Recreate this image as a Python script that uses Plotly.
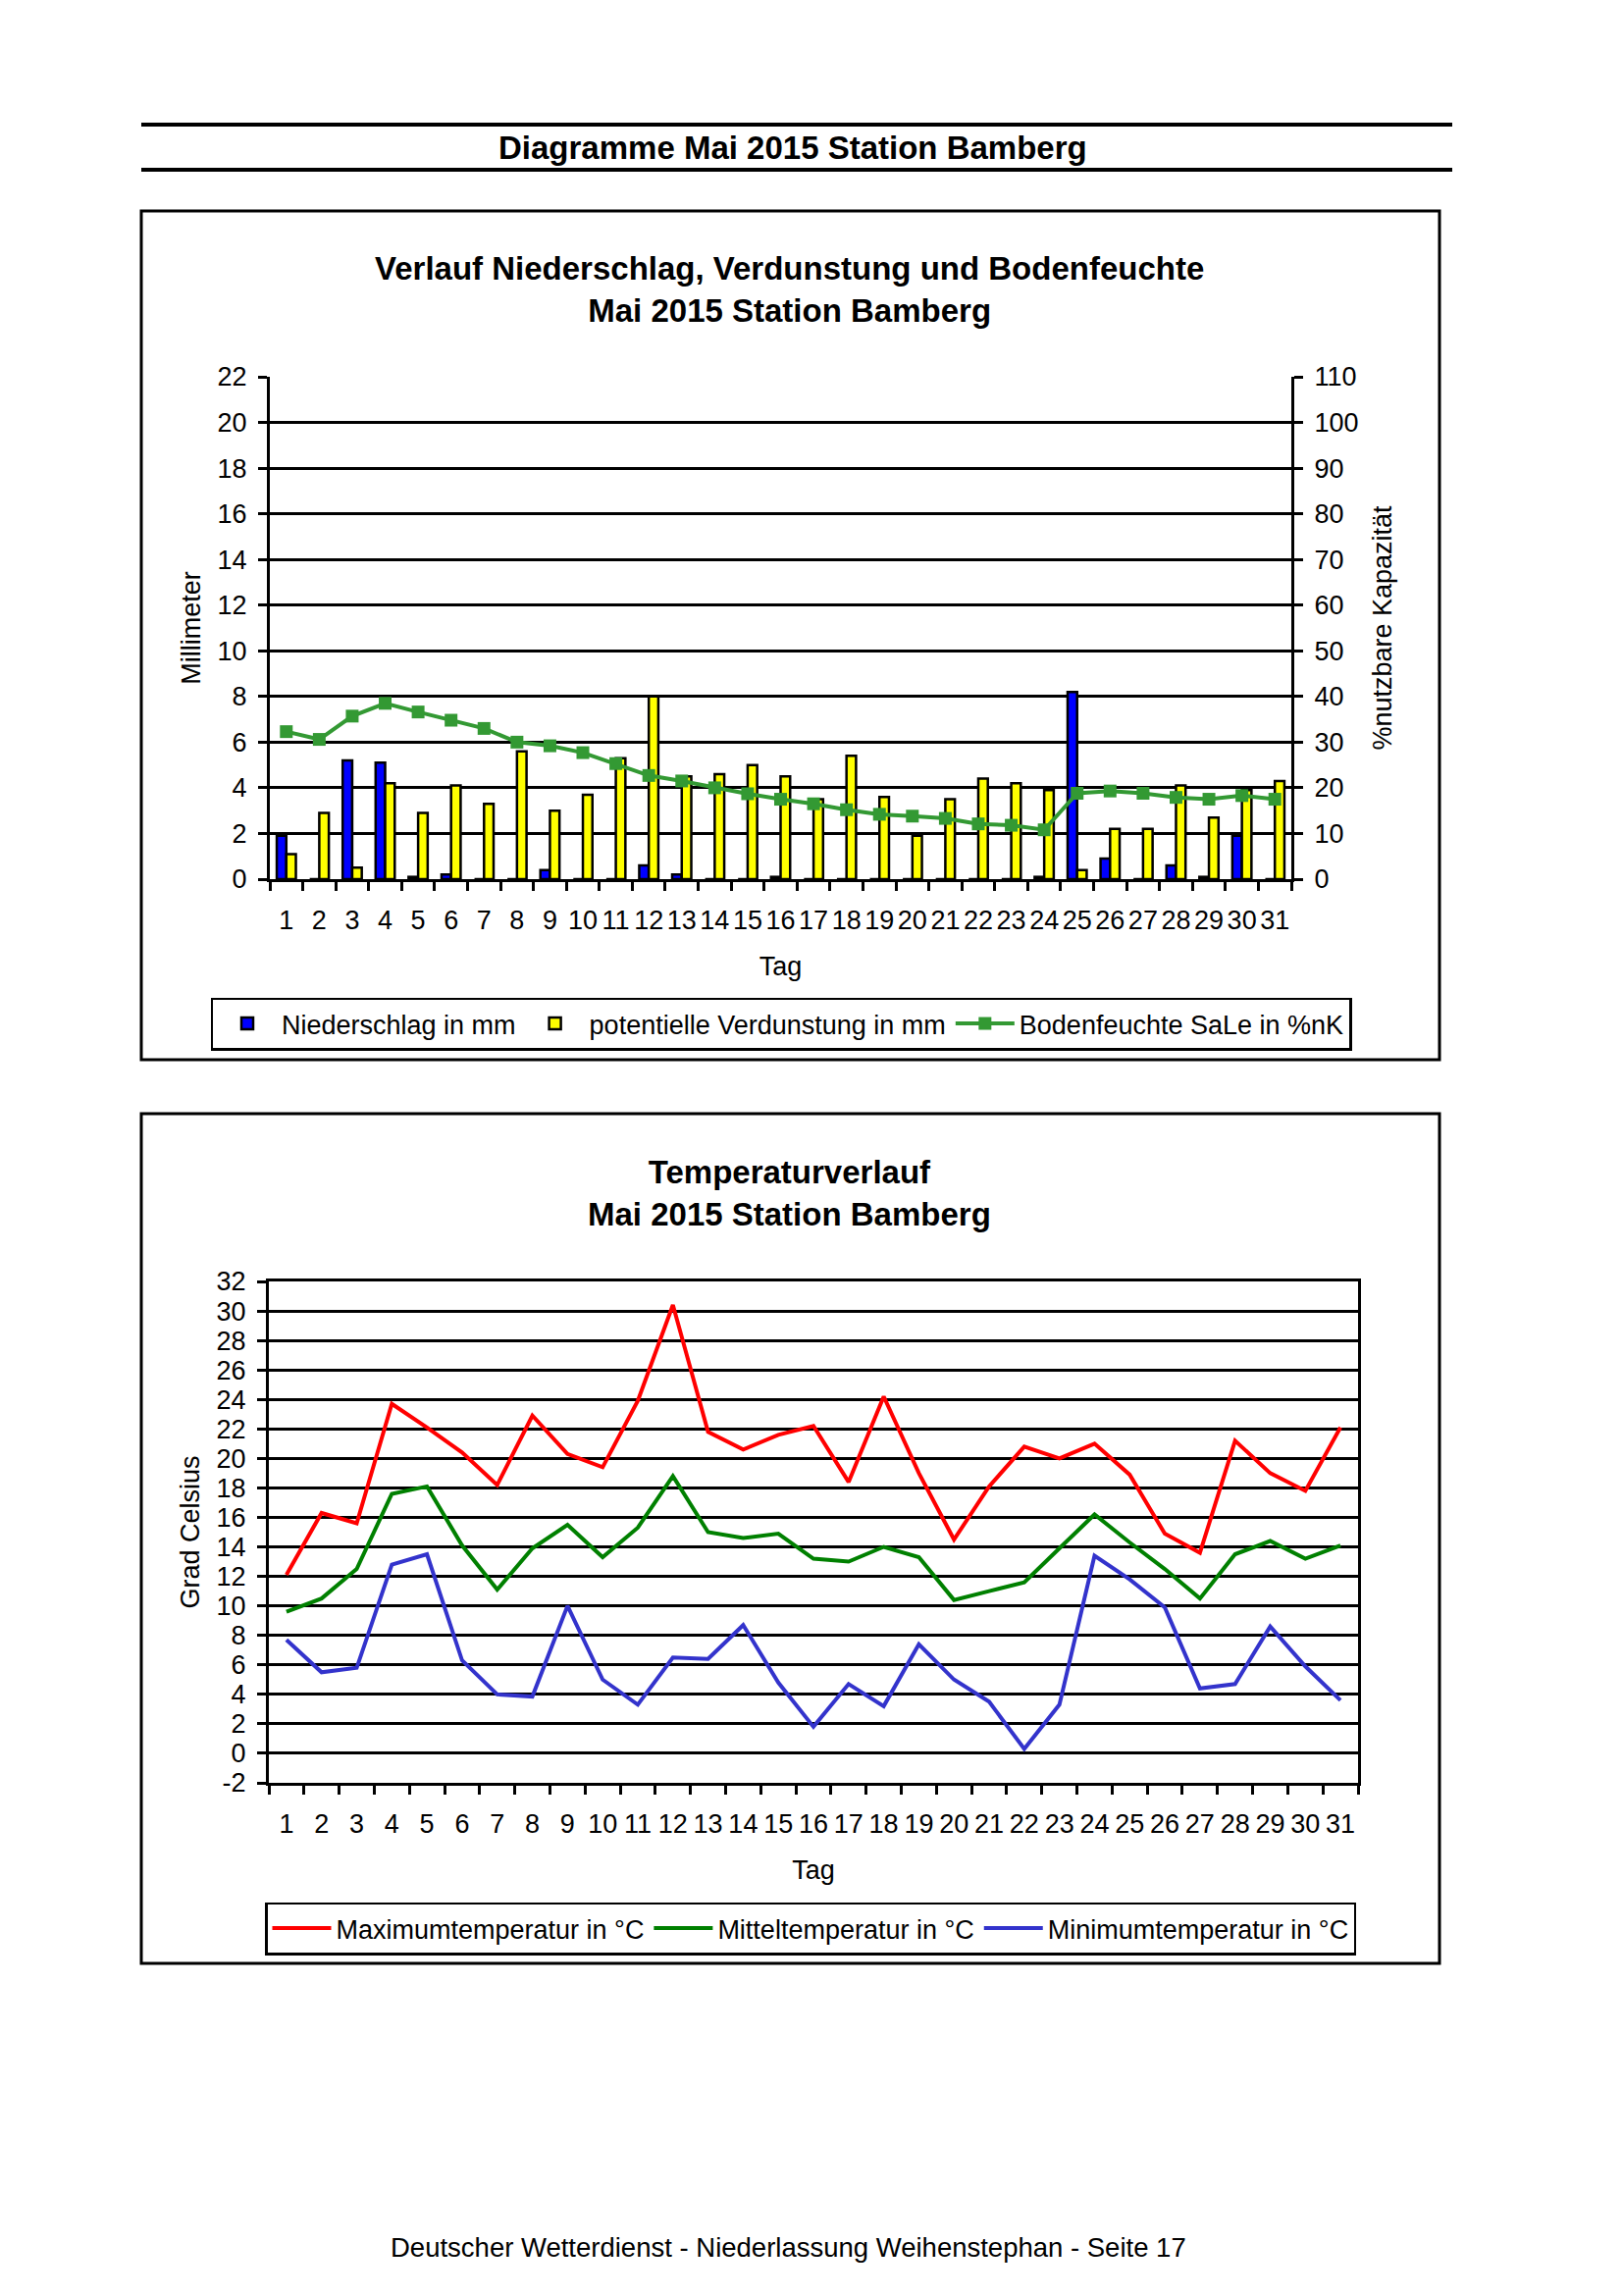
import plotly.graph_objects as go

W, H = 1653, 2340


def fx(px):
    return px / W


def fy(py):
    return 1 - py / H


FONT = "Liberation Sans, Arial, Helvetica, sans-serif"

# ---------------- data ----------------
days = [str(d) for d in range(1, 32)]

niederschlag = [1.9, 0.0, 5.2, 5.1, 0.1, 0.2, 0.0, 0.0, 0.4, 0.0, 0.0, 0.6, 0.2, 0.0, 0.0, 0.1,
                0.0, 0.0, 0.0, 0.0, 0.0, 0.0, 0.0, 0.1, 8.2, 0.9, 0.0, 0.6, 0.1, 1.9, 0.0]
verdunstung = [1.1, 2.9, 0.5, 4.2, 2.9, 4.1, 3.3, 5.6, 3.0, 3.7, 5.3, 8.0, 4.5, 4.6, 5.0, 4.5,
               3.5, 5.4, 3.6, 1.9, 3.5, 4.4, 4.2, 3.9, 0.4, 2.2, 2.2, 4.1, 2.7, 3.9, 4.3]
bodenfeuchte = [32.3, 30.6, 35.7, 38.5, 36.6, 34.8, 33.0, 30.0, 29.2, 27.7, 25.3, 22.7, 21.5, 20.0,
                18.7, 17.5, 16.5, 15.2, 14.2, 13.8, 13.3, 12.1, 11.8, 10.8, 18.8, 19.3, 18.8, 17.9,
                17.5, 18.3, 17.5]

tmax = [12.1, 16.3, 15.6, 23.7, 22.1, 20.4, 18.2, 22.9, 20.3, 19.4, 23.9, 30.4, 21.8, 20.6, 21.6,
        22.2, 18.4, 24.2, 19.0, 14.5, 18.1, 20.8, 20.0, 21.0, 18.9, 14.9, 13.6, 21.2, 19.0, 17.8, 22.1]
tmit = [9.6, 10.5, 12.5, 17.6, 18.1, 14.1, 11.1, 13.9, 15.5, 13.3, 15.3, 18.8, 15.0, 14.6, 14.9,
        13.2, 13.0, 14.0, 13.3, 10.4, 11.0, 11.6, 13.9, 16.2, 14.3, 12.5, 10.5, 13.5, 14.4, 13.2, 14.1]
tmin = [7.7, 5.5, 5.8, 12.8, 13.5, 6.3, 4.0, 3.85, 10.0, 5.0, 3.3, 6.5, 6.4, 8.7, 4.8, 1.8, 4.7,
        3.2, 7.4, 5.0, 3.5, 0.3, 3.3, 13.4, 11.8, 9.9, 4.4, 4.7, 8.6, 5.9, 3.6]

mm_ticks = list(range(0, 23, 2))
pct_ticks = list(range(0, 111, 10))
temp_ticks = list(range(-2, 33, 2))
temp_ticktext = [str(v) for v in temp_ticks]

# ---------------- figure ----------------
fig = go.Figure()

fig.add_trace(go.Bar(
    x=days, y=niederschlag, name="Niederschlag in mm",
    marker=dict(color="#0000FF", line=dict(color="black", width=2.5)),
    xaxis="x", yaxis="y", legend="legend"))
fig.add_trace(go.Bar(
    x=days, y=verdunstung, name="potentielle Verdunstung in mm",
    marker=dict(color="#FFFF00", line=dict(color="black", width=2.5)),
    xaxis="x", yaxis="y", legend="legend"))
fig.add_trace(go.Scatter(
    x=days, y=bodenfeuchte, name="Bodenfeuchte SaLe in %nK", mode="lines+markers",
    line=dict(color="#339933", width=4),
    marker=dict(symbol="square", size=13, color="#339933"),
    xaxis="x", yaxis="y2", legend="legend"))

fig.add_trace(go.Scatter(
    x=days, y=tmax, name="Maximumtemperatur in °C", mode="lines",
    line=dict(color="#FF0000", width=4), xaxis="x2", yaxis="y3", legend="legend2"))
fig.add_trace(go.Scatter(
    x=days, y=tmit, name="Mitteltemperatur in °C", mode="lines",
    line=dict(color="#008000", width=4), xaxis="x2", yaxis="y3", legend="legend2"))
fig.add_trace(go.Scatter(
    x=days, y=tmin, name="Minimumtemperatur in °C", mode="lines",
    line=dict(color="#3333CC", width=4), xaxis="x2", yaxis="y3", legend="legend2"))

tickfont = dict(family=FONT, size=27, color="black")
axis_common = dict(showline=True, linecolor="black", linewidth=3, ticks="outside",
                   tickcolor="black", tickwidth=3, ticklen=9, tickfont=tickfont,
                   automargin=False)
xcat = dict(type="category", tickson="boundaries", showgrid=False, tickmode="linear",
            tick0=0, dtick=1, tickangle=0, ticklabelstandoff=16,
            range=[-0.5, len(days) - 0.5], autorange=False)

legend_common = dict(orientation="h", xanchor="center", yanchor="middle",
                     bordercolor="black", borderwidth=2.5, bgcolor="white",
                     itemwidth=60, font=dict(family=FONT, size=27, color="black"))

fig.update_layout(
    width=W, height=H, autosize=False,
    margin=dict(l=0, r=0, t=0, b=0, pad=0),
    paper_bgcolor="white", plot_bgcolor="white",
    font=dict(family=FONT, size=27, color="black"),
    barmode="group", bargap=0.42, bargroupgap=0.0,
    xaxis=dict(domain=[fx(275), fx(1316)], anchor="y",
               title=dict(text="Tag", font=dict(family=FONT, size=27), standoff=23),
               **xcat, **axis_common),
    yaxis=dict(domain=[fy(896), fy(384)], anchor="x", range=[0, 22],
               tickvals=mm_ticks, showgrid=True, gridcolor="black", gridwidth=3,
               zeroline=False, ticklabelstandoff=6,
               title=dict(text="Millimeter", font=dict(family=FONT, size=27), standoff=10),
               **axis_common),
    yaxis2=dict(overlaying="y", side="right", anchor="x", range=[0, 110],
                tickvals=pct_ticks, showgrid=False, zeroline=False, ticklabelstandoff=6,
                title=dict(text="%nutzbare Kapazität", font=dict(family=FONT, size=27), standoff=16),
                **axis_common),
    xaxis2=dict(domain=[fx(274), fx(1384)], anchor="y3", mirror=True,
                title=dict(text="Tag", font=dict(family=FONT, size=27), standoff=23),
                **xcat, **axis_common),
    yaxis3=dict(domain=[fy(1817), fy(1306)], anchor="x2", range=[-2, 32],
                tickvals=temp_ticks, ticktext=temp_ticktext,
                showgrid=True, gridcolor="black", gridwidth=3,
                zeroline=False, mirror=True, ticklabelstandoff=6,
                title=dict(text="Grad Celsius", font=dict(family=FONT, size=27), standoff=10),
                **axis_common),
    legend=dict(x=fx(796), y=fy(1043.5), **legend_common),
    legend2=dict(x=fx(826), y=fy(1965.5), **legend_common),
)

shapes = [
    dict(type="line", xref="paper", yref="paper", x0=fx(144), x1=fx(1480), y0=fy(127), y1=fy(127),
         line=dict(color="black", width=4)),
    dict(type="line", xref="paper", yref="paper", x0=fx(144), x1=fx(1480), y0=fy(173), y1=fy(173),
         line=dict(color="black", width=4)),
    dict(type="rect", xref="paper", yref="paper", x0=fx(144), x1=fx(1467), y0=fy(215), y1=fy(1080),
         line=dict(color="black", width=3), layer="below"),
    dict(type="rect", xref="paper", yref="paper", x0=fx(144), x1=fx(1467), y0=fy(1135), y1=fy(2001),
         line=dict(color="black", width=3), layer="below"),
]
fig.update_layout(shapes=shapes)

annotations = [
    dict(text="<b>Diagramme Mai 2015 Station Bamberg</b>", x=fx(807.5), y=fy(151),
         font=dict(family=FONT, size=33, color="black")),
    dict(text="<b>Verlauf Niederschlag, Verdunstung und Bodenfeuchte<br>Mai 2015 Station Bamberg</b>",
         x=fx(804.5), y=fy(294.5), font=dict(family=FONT, size=33, color="black")),
    dict(text="<b>Temperaturverlauf<br>Mai 2015 Station Bamberg</b>",
         x=fx(804), y=fy(1216), font=dict(family=FONT, size=33, color="black")),
    dict(text="Deutscher Wetterdienst - Niederlassung Weihenstephan - Seite 17",
         x=fx(803), y=fy(2290), font=dict(family=FONT, size=27.5, color="black")),
]
for a in annotations:
    a.update(xref="paper", yref="paper", xanchor="center", yanchor="middle", showarrow=False)
fig.update_layout(annotations=annotations)

fig.write_html("out.html",
               config={"displayModeBar": False},
               post_script="document.body.style.margin='0';document.body.style.padding='0';")
